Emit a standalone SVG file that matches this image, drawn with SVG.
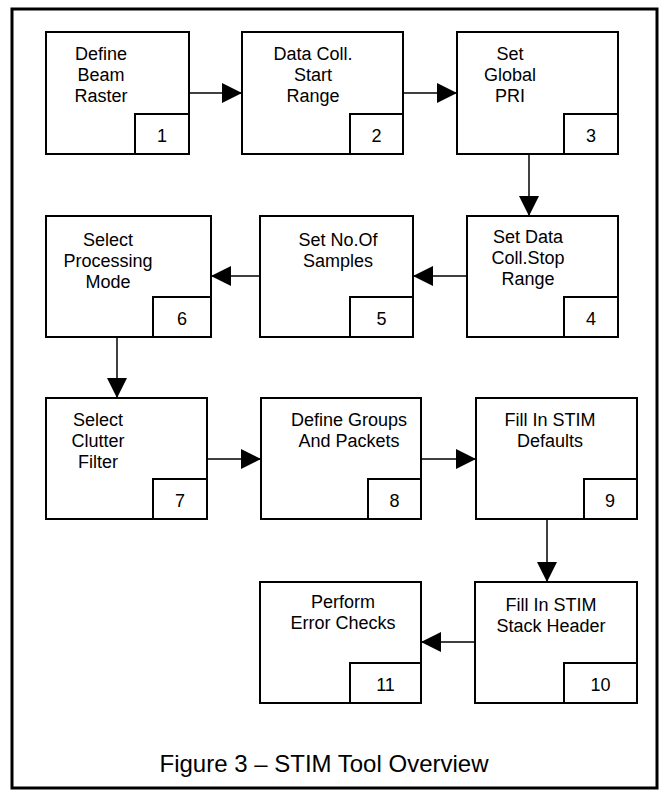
<svg xmlns="http://www.w3.org/2000/svg" width="661" height="792" viewBox="0 0 661 792">
<defs>
<style>
.box{fill:#fff;stroke:#000;stroke-width:2}
.num{fill:none;stroke:#000;stroke-width:2}
.t{font-family:"Liberation Sans",Arial,sans-serif;font-size:18px;fill:#000;text-anchor:middle}
.c{fill:none;stroke:#000;stroke-width:1.5}
.cap{font-family:"Liberation Sans",Arial,sans-serif;font-size:24px;fill:#000;text-anchor:middle}
</style>
<marker id="ah" markerUnits="userSpaceOnUse" markerWidth="20" markerHeight="20" refX="20" refY="10" orient="auto">
<path d="M0,0 L20,10 L0,20 Z" fill="#000"/>
</marker>
</defs>
<rect width="661" height="792" fill="#fff"/>
<rect x="12" y="9" width="645" height="779" fill="none" stroke="#000" stroke-width="3"/>

<g id="connectors">
<line class="c" x1="189" y1="93" x2="242" y2="93" marker-end="url(#ah)"/>
<line class="c" x1="403" y1="93" x2="457" y2="93" marker-end="url(#ah)"/>
<line class="c" x1="529" y1="154" x2="529" y2="216" marker-end="url(#ah)"/>
<line class="c" x1="467" y1="276" x2="413" y2="276" marker-end="url(#ah)"/>
<line class="c" x1="260" y1="276" x2="211" y2="276" marker-end="url(#ah)"/>
<line class="c" x1="117" y1="337" x2="117" y2="398" marker-end="url(#ah)"/>
<line class="c" x1="207" y1="459" x2="261" y2="459" marker-end="url(#ah)"/>
<line class="c" x1="421" y1="459" x2="476" y2="459" marker-end="url(#ah)"/>
<line class="c" x1="547" y1="519" x2="547" y2="582" marker-end="url(#ah)"/>
<line class="c" x1="475" y1="642" x2="421" y2="642" marker-end="url(#ah)"/>
</g>

<g id="n1">
<rect class="box" x="46" y="32" width="143" height="122"/>
<rect class="num" x="135" y="114" width="54" height="40"/>
<text class="t" x="101" y="60">Define</text>
<text class="t" x="101" y="81">Beam</text>
<text class="t" x="101" y="102">Raster</text>
<text class="t" x="162" y="142">1</text>
</g>
<g id="n2">
<rect class="box" x="242" y="32" width="161" height="122"/>
<rect class="num" x="350" y="114" width="53" height="40"/>
<text class="t" x="313" y="60">Data Coll.</text>
<text class="t" x="313" y="81">Start</text>
<text class="t" x="313" y="102">Range</text>
<text class="t" x="376.5" y="142">2</text>
</g>
<g id="n3">
<rect class="box" x="457" y="32" width="161" height="122"/>
<rect class="num" x="564" y="114" width="54" height="40"/>
<text class="t" x="510" y="60">Set</text>
<text class="t" x="510" y="81">Global</text>
<text class="t" x="510" y="102">PRI</text>
<text class="t" x="591" y="142">3</text>
</g>
<g id="n4">
<rect class="box" x="467" y="216" width="151" height="121"/>
<rect class="num" x="564" y="297" width="54" height="40"/>
<text class="t" x="528" y="243">Set Data</text>
<text class="t" x="528" y="264">Coll.Stop</text>
<text class="t" x="528" y="285">Range</text>
<text class="t" x="591" y="325">4</text>
</g>
<g id="n5">
<rect class="box" x="260" y="216" width="153" height="121"/>
<rect class="num" x="350" y="297" width="63" height="40"/>
<text class="t" x="338" y="246">Set No.Of</text>
<text class="t" x="338" y="267">Samples</text>
<text class="t" x="381.5" y="325">5</text>
</g>
<g id="n6">
<rect class="box" x="46" y="216" width="165" height="121"/>
<rect class="num" x="153" y="297" width="58" height="40"/>
<text class="t" x="108" y="246">Select</text>
<text class="t" x="108" y="267">Processing</text>
<text class="t" x="108" y="288">Mode</text>
<text class="t" x="182" y="325">6</text>
</g>
<g id="n7">
<rect class="box" x="46" y="398" width="161" height="121"/>
<rect class="num" x="153" y="479" width="54" height="40"/>
<text class="t" x="98" y="426">Select</text>
<text class="t" x="98" y="447">Clutter</text>
<text class="t" x="98" y="468">Filter</text>
<text class="t" x="180" y="507">7</text>
</g>
<g id="n8">
<rect class="box" x="261" y="398" width="160" height="121"/>
<rect class="num" x="368" y="479" width="53" height="40"/>
<text class="t" x="349" y="426">Define Groups</text>
<text class="t" x="349" y="447">And Packets</text>
<text class="t" x="394.5" y="507">8</text>
</g>
<g id="n9">
<rect class="box" x="476" y="398" width="161" height="121"/>
<rect class="num" x="584" y="479" width="53" height="40"/>
<text class="t" x="550" y="426">Fill In STIM</text>
<text class="t" x="550" y="447">Defaults</text>
<text class="t" x="610" y="507">9</text>
</g>
<g id="n10">
<rect class="box" x="475" y="582" width="162" height="121"/>
<rect class="num" x="564" y="663" width="73" height="40"/>
<text class="t" x="551" y="611">Fill In STIM</text>
<text class="t" x="551" y="632">Stack Header</text>
<text class="t" x="600.5" y="691">10</text>
</g>
<g id="n11">
<rect class="box" x="260" y="582" width="161" height="121"/>
<rect class="num" x="350" y="663" width="71" height="40"/>
<text class="t" x="343" y="608">Perform</text>
<text class="t" x="343" y="629">Error Checks</text>
<text class="t" x="385.5" y="691">11</text>
</g>

<text class="cap" x="324" y="772">Figure 3 – STIM Tool Overview</text>
</svg>
